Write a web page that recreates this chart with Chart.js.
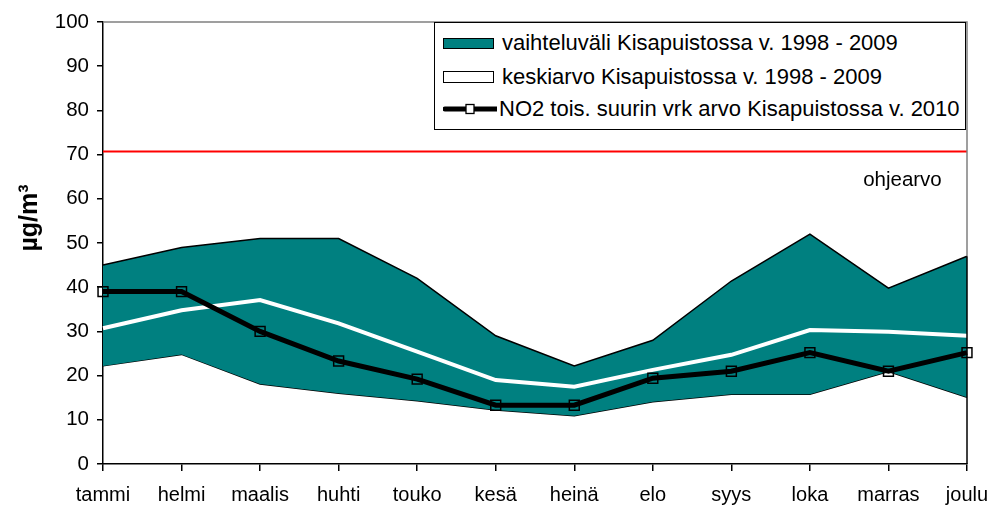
<!DOCTYPE html>
<html lang="fi">
<head>
    <meta charset="UTF-8">
    <title>NO2 Kisapuisto</title>
    <script src="https://cdn.jsdelivr.net/npm/chart.js"></script>
    <style>
        body { margin: 0; background: #fff; font-family: 'Liberation Sans', Arial, sans-serif; }
        #wrap { position: relative; width: 994px; height: 507px; }
        #legend {
            position: absolute; left: 434px; top: 22px; width: 530px; height: 106px;
            border: 1px solid #000; background: #fff; font-size: 22px; color: #000;
        }
        .row { position: absolute; left: 8px; height: 24px; display: flex; align-items: center; white-space: nowrap; }
        .sw { width: 51px; height: 10px; border: 1px solid #000; margin-right: 8px; box-sizing: border-box; }
    </style>
</head>
<body>
<div id="wrap">
    <canvas id="chart" width="994" height="507"></canvas>
    <div id="legend">
        <div class="row" style="top:8px"><div class="sw" style="background:#008080;height:11px"></div>vaihteluväli Kisapuistossa v. 1998 - 2009</div>
        <div class="row" style="top:42px"><div class="sw" style="background:#fff;height:12px"></div>keskiarvo Kisapuistossa v. 1998 - 2009</div>
        <div class="row" style="top:74px">
            <svg width="54" height="14" style="margin-right:2px"><line x1="2" y1="7" x2="54" y2="7" stroke="#000" stroke-width="5" stroke-linecap="round"/><rect x="23" y="2.5" width="8" height="9" fill="#fff" stroke="#000" stroke-width="1.3"/></svg>NO2 tois. suurin vrk arvo Kisapuistossa v. 2010</div>
    </div>
</div>

<script>
const months = ['tammi', 'helmi', 'maalis', 'huhti', 'touko', 'kesä', 'heinä', 'elo', 'syys', 'loka', 'marras', 'joulu'];
const rangeMax = [45, 49, 51, 51, 42, 29, 22.2, 28, 41.4, 52, 39.8, 47];
const rangeMin = [22.2, 24.8, 18.1, 16, 14.3, 12.2, 10.9, 14.1, 15.8, 15.8, 20.9, 15.1];
const mean = [30.7, 34.8, 37.1, 31.8, 25.4, 19, 17.5, 21.3, 24.7, 30.3, 29.9, 29];
const no2 = [39, 39, 30, 23.3, 19.2, 13.3, 13.3, 19.4, 21, 25.2, 21, 25.2];
const guideline = months.map(() => 70.7);
const guideLabel = 'ohjearvo';
const yTitle = 'µg/m³';

const font = "'Liberation Sans', Arial, sans-serif";

// plot frame (gray top/right like excel) + y title + guideline label
const extras = {
    id: 'extras',
    afterDatasetsDraw(chart) {
        const { ctx, chartArea: a, scales: { x, y } } = chart;
        const lastMax = y.getPixelForValue(rangeMax[rangeMax.length - 1]);
        ctx.save();
        ctx.strokeStyle = '#808080';
        ctx.lineWidth = 1.5;
        ctx.beginPath();
        ctx.moveTo(a.left, a.top);
        ctx.lineTo(a.right, a.top);
        ctx.lineTo(a.right, lastMax);
        ctx.stroke();
        ctx.strokeStyle = '#000';
        ctx.beginPath();
        ctx.moveTo(a.right, lastMax);
        ctx.lineTo(a.right, a.bottom);
        ctx.stroke();

        ctx.fillStyle = '#000';
        ctx.font = '20.5px ' + font;
        ctx.textAlign = 'center';
        ctx.textBaseline = 'middle';
        ctx.fillText(guideLabel, x.getPixelForValue(10) + 14, y.getPixelForValue(64.2));

        ctx.translate(30, 218);
        ctx.rotate(-Math.PI / 2);
        ctx.font = 'bold 25px ' + font;
        ctx.fillText(yTitle, 0, 0);
        ctx.restore();
    }
};

new Chart(document.getElementById('chart').getContext('2d'), {
    type: 'line',
    data: {
        labels: months,
        datasets: [
            {
                data: no2, borderColor: '#000', borderWidth: 5, fill: false,
                pointStyle: 'rect', pointRadius: 7, pointBorderWidth: 1.5,
                pointBorderColor: '#000', pointBackgroundColor: 'rgba(0,0,0,0)'
            },
            { data: mean, borderColor: '#fff', borderWidth: 4, pointRadius: 0, fill: false },
            { data: guideline, borderColor: '#ff0000', borderWidth: 2, pointRadius: 0, fill: false },
            { data: rangeMax, borderColor: '#000', borderWidth: 1.5, pointRadius: 0, fill: 4, backgroundColor: '#008080' },
            { data: rangeMin, borderColor: '#000', borderWidth: 1.5, pointRadius: 0, fill: false }
        ]
    },
    options: {
        responsive: false,
        animation: false,
        layout: { padding: { left: 0, right: 27, top: 22, bottom: 0 } },
        elements: { line: { tension: 0 } },
        plugins: { legend: { display: false }, tooltip: { enabled: false } },
        scales: {
            x: {
                offset: false,
                grid: { drawOnChartArea: false, color: '#000', tickLength: 7, lineWidth: 1.5 },
                border: { color: '#000', width: 1.5 },
                ticks: { color: '#000', font: { family: font, size: 20 }, padding: 12, maxRotation: 0, autoSkip: false },
                afterFit(s) { s.height = 43; s.paddingLeft = 0; s.paddingRight = 0; }
            },
            y: {
                min: 0, max: 100,
                grid: { drawOnChartArea: false, color: '#000', tickLength: 6, lineWidth: 1.5 },
                border: { color: '#000', width: 1.5 },
                ticks: { stepSize: 10, color: '#000', font: { family: font, size: 20.5 }, padding: 8 },
                afterFit(s) { s.width = 103; }
            }
        }
    },
    plugins: [extras]
});
</script>
</body>
</html>
